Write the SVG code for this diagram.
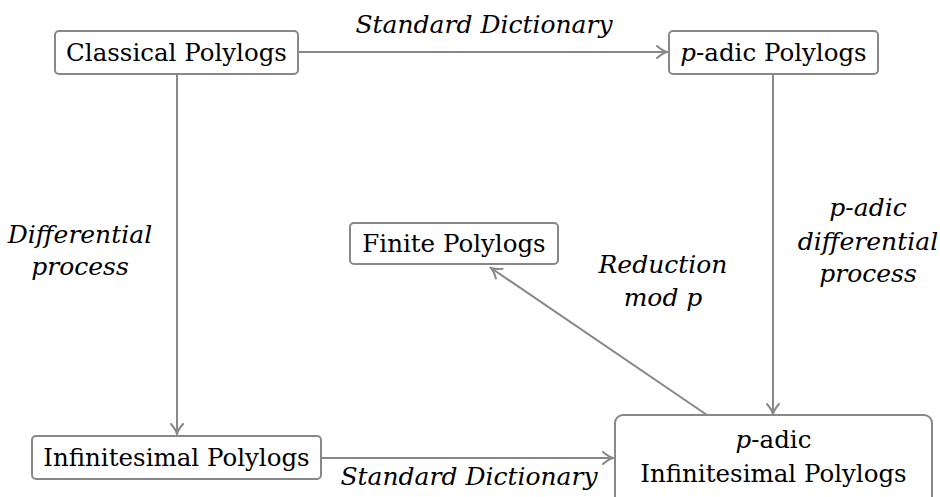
<svg xmlns="http://www.w3.org/2000/svg" width="940" height="497" viewBox="0 0 940 497">
<defs>
<marker id="arr" markerUnits="userSpaceOnUse" viewBox="-12 -8 14 16" markerWidth="14" markerHeight="16" refX="0" refY="0" orient="auto">
<path d="M-10,-6 C-6,-2.5 -3,-0.8 0,0 C-3,0.8 -6,2.5 -10,6" fill="none" stroke="#888888" stroke-width="2" stroke-linecap="round"/>
</marker>
<style>
.box{fill:#ffffff;stroke:#888888;stroke-width:2}
.t{font-family:"DejaVu Serif",serif;font-size:24.5px;fill:#000;text-anchor:middle}
.l{font-family:"DejaVu Serif",serif;font-size:25px;font-style:italic;fill:#000;text-anchor:middle}
.e{fill:none;stroke:#888888;stroke-width:2;marker-end:url(#arr)}
.i{font-style:italic}
</style>
</defs>
<rect width="940" height="497" fill="#ffffff"/>
<g id="connectors">
<path class="e" d="M298,52 H667"/>
<path class="e" d="M773,74 V414"/>
<path class="e" d="M177,74 V434"/>
<path class="e" d="M321,458 H613"/>
<path class="e" d="M707,415 L491,268"/>
<text class="l" x="484" y="33">Standard Dictionary</text>
<text class="l" x="469" y="485">Standard Dictionary</text>
<text class="l" x="80" y="243">Differential</text>
<text class="l" x="80" y="275">process</text>
<text class="l" x="868" y="216">p-adic</text>
<text class="l" x="868" y="250">differential</text>
<text class="l" x="868" y="282">process</text>
<text class="l" x="663" y="273">Reduction</text>
<text class="l" x="663" y="306">mod p</text>
</g>
<g id="classical">
<rect class="box" x="55" y="31" width="243" height="43" rx="4"/>
<text class="t" x="176.5" y="61">Classical Polylogs</text>
</g>
<g id="padic">
<rect class="box" x="669" y="31" width="209" height="43" rx="4"/>
<text class="t" x="773.5" y="61"><tspan class="i">p</tspan>-adic Polylogs</text>
</g>
<g id="finite">
<rect class="box" x="350" y="223" width="208" height="41" rx="4"/>
<text class="t" x="454" y="252">Finite Polylogs</text>
</g>
<g id="infinitesimal">
<rect class="box" x="32" y="436" width="289" height="43" rx="4"/>
<text class="t" x="176.5" y="466">Infinitesimal Polylogs</text>
</g>
<g id="padic-infinitesimal">
<rect class="box" x="615" y="415" width="317" height="90" rx="8"/>
<text class="t" x="773.5" y="448"><tspan class="i">p</tspan>-adic</text>
<text class="t" x="773.5" y="482">Infinitesimal Polylogs</text>
</g>
</svg>
